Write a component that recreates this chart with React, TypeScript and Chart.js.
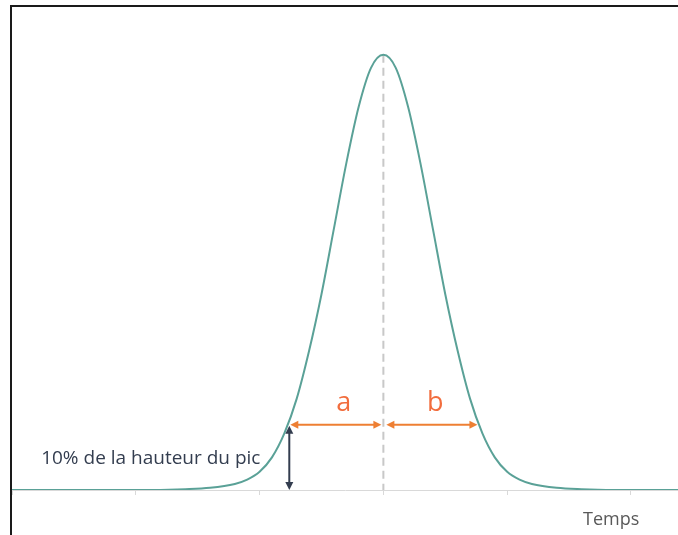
import React, { useEffect, useRef } from "react";
import { Chart, registerables } from "chart.js";

Chart.register(...registerables);

// Time axis (arbitrary units, peak at 0) and normalised signal
const timeValues = [-3.0, -2.0, -1.6, -1.4, -1.2, -1.1, -1.0, -0.9, -0.8, -0.7, -0.6, -0.5, -0.4, -0.3, -0.2, -0.1, 0, 0.1, 0.2, 0.3, 0.4, 0.5, 0.6, 0.7, 0.8, 0.9, 1.0, 1.1, 1.2, 1.4, 1.6, 2.0, 2.4];
const signalValues = [0, 0, 0.002, 0.005, 0.014, 0.024, 0.042, 0.075, 0.13, 0.21, 0.32, 0.45, 0.6, 0.75, 0.88, 0.97, 1, 0.97, 0.88, 0.75, 0.6, 0.45, 0.32, 0.21, 0.13, 0.075, 0.042, 0.024, 0.014, 0.005, 0.002, 0, 0];

const peakTime = [0];
const peakHeight = [1];
const levelFraction = [0.15];
const widthEdges = [-0.76, 0.76];
const axisTickStep = 1;
const axisMin = -3;
const axisMax = 2.38;
const yMax = 1.11;

const levelLabel = "10% de la hauteur du pic";
const segmentLabels = ["a", "b"];
const segmentLabelTimes = [-0.32, 0.42];
const segmentLabelLevel = 0.2;
const levelLabelTime = -1.879;
const levelLabelValue = 0.06;
const axisTitle = "Temps";
const axisTitleTime = 1.84;
const axisTitleValue = -0.08;

const TEAL = "#5aa197";
const ORANGE = "#ee7f33";
const ORANGE_TEXT = "#f26d3d";
const DARK = "#333d4f";
const FONT = "'Open Sans', Lato, sans-serif";

function drawHead(ctx: CanvasRenderingContext2D, x: number, y: number, angle: number, color: string) {
  const len = 8;
  const half = 4;
  ctx.save();
  ctx.translate(x, y);
  ctx.rotate(angle);
  ctx.fillStyle = color;
  ctx.beginPath();
  ctx.moveTo(0, 0);
  ctx.lineTo(-len, -half);
  ctx.lineTo(-len, half);
  ctx.closePath();
  ctx.fill();
  ctx.restore();
}

function doubleArrow(ctx: CanvasRenderingContext2D, x1: number, y1: number, x2: number, y2: number, color: string) {
  const ang = Math.atan2(y2 - y1, x2 - x1);
  ctx.save();
  ctx.strokeStyle = color;
  ctx.lineWidth = 2;
  ctx.beginPath();
  ctx.moveTo(x1 + Math.cos(ang) * 6, y1 + Math.sin(ang) * 6);
  ctx.lineTo(x2 - Math.cos(ang) * 6, y2 - Math.sin(ang) * 6);
  ctx.stroke();
  ctx.restore();
  drawHead(ctx, x2, y2, ang, color);
  drawHead(ctx, x1, y1, ang + Math.PI, color);
}

const annotations = {
  id: "annotations",
  afterDatasetsDraw(chart: any) {
    const { ctx, scales } = chart;
    const x = scales.x;
    const y = scales.y;
    const yl = y.getPixelForValue(levelFraction[0]);
    const y0 = y.getPixelForValue(0);
    const xl = x.getPixelForValue(widthEdges[0]);
    const xr = x.getPixelForValue(widthEdges[1]);
    const xc = x.getPixelForValue(peakTime[0]);

    doubleArrow(ctx, xl + 1, yl, xc - 2, yl, ORANGE);
    doubleArrow(ctx, xc + 3, yl, xr, yl, ORANGE);
    doubleArrow(ctx, xl, yl + 1, xl, y0, DARK);

    ctx.save();
    ctx.fillStyle = ORANGE_TEXT;
    ctx.font = `27px ${FONT}`;
    ctx.textAlign = "center";
    ctx.textBaseline = "middle";
    segmentLabels.forEach((lab, i) => {
      ctx.fillText(lab, x.getPixelForValue(segmentLabelTimes[i]), y.getPixelForValue(segmentLabelLevel));
    });

    ctx.fillStyle = DARK;
    ctx.font = `19px ${FONT}`;
    ctx.textAlign = "center";
    ctx.textBaseline = "alphabetic";
    ctx.fillText(levelLabel, x.getPixelForValue(levelLabelTime), y.getPixelForValue(levelLabelValue));

    ctx.fillStyle = "#595959";
    ctx.font = `18px ${FONT}`;
    ctx.fillText(axisTitle, x.getPixelForValue(axisTitleTime), y.getPixelForValue(axisTitleValue));
    ctx.restore();
  },
};

export default function App() {
  const ref = useRef<HTMLCanvasElement | null>(null);

  useEffect(() => {
    document.body.style.margin = "0";
    const canvas = ref.current;
    if (!canvas) return;
    const curve = timeValues.map((t, i) => ({ x: t, y: signalValues[i] }));
    const peakLine = [
      { x: peakTime[0], y: peakHeight[0] },
      { x: peakTime[0], y: 0 },
    ];
    const chart = new Chart(canvas, {
      type: "line",
      data: {
        datasets: [
          {
            data: curve,
            borderColor: TEAL,
            borderWidth: 2,
            pointRadius: 0,
            cubicInterpolationMode: "monotone",
            fill: false,
          },
          {
            data: peakLine,
            borderColor: "#c8c8c8",
            borderWidth: 2,
            borderDash: [8, 5],
            pointRadius: 0,
            fill: false,
          },
        ],
      },
      options: {
        animation: false,
        responsive: false,
        devicePixelRatio: 1,
        events: [],
        layout: { padding: { left: 12, right: 0, top: 7, bottom: 40 } },
        plugins: { legend: { display: false }, tooltip: { enabled: false }, title: { display: false } },
        scales: {
          x: {
            type: "linear",
            min: axisMin,
            max: axisMax,
            display: true,
            ticks: { display: false, stepSize: axisTickStep },
            grid: { drawOnChartArea: false, drawTicks: true, tickLength: 5, color: "#d9d9d9", lineWidth: 1 },
            border: { display: true, color: "#d9d9d9", width: 1 },
          },
          y: {
            type: "linear",
            min: 0,
            max: yMax,
            display: false,
          },
        },
      },
      plugins: [annotations],
    });
    return () => chart.destroy();
  }, []);

  return (
    <div style={{ position: "relative", width: 678, height: 535, overflow: "hidden", background: "#fff" }}>
      <canvas ref={ref} width={678} height={535} style={{ position: "absolute", left: 0, top: 0 }} />
      <div
        style={{
          position: "absolute",
          left: 10,
          top: 5,
          width: 700,
          height: 600,
          borderLeft: "2px solid #1a1a1a",
          borderTop: "2px solid #1a1a1a",
          pointerEvents: "none",
        }}
      />
    </div>
  );
}
